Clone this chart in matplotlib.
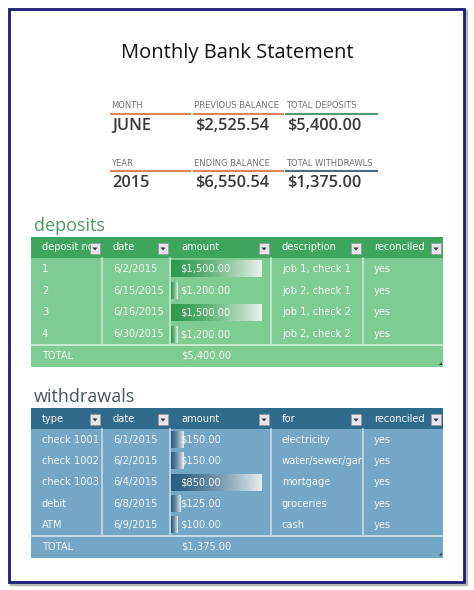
import numpy as np
import matplotlib.pyplot as plt
from matplotlib.patches import Rectangle, Polygon
from matplotlib.colors import to_rgb
from matplotlib.transforms import Bbox

# summary values
month = "JUNE"
year = "2015"
previous_balance = 2525.54
ending_balance = 6550.54

# deposits table
dep_headers = ["deposit no", "date", "amount", "description", "reconciled"]
dep_no = ["1", "2", "3", "4"]
dep_dates = ["6/2/2015", "6/15/2015", "6/16/2015", "6/30/2015"]
dep_amounts = [1500.00, 1200.00, 1500.00, 1200.00]
dep_desc = ["job 1, check 1", "job 2, check 1", "job 1, check 2", "job 2, check 2"]
dep_reconciled = ["yes", "yes", "yes", "yes"]

# withdrawals table
wd_headers = ["type", "date", "amount", "for", "reconciled"]
wd_type = ["check 1001", "check 1002", "check 1003", "debit", "ATM"]
wd_dates = ["6/1/2015", "6/2/2015", "6/4/2015", "6/8/2015", "6/9/2015"]
wd_amounts = [150.00, 150.00, 850.00, 125.00, 100.00]
wd_for = ["electricity", "water/sewer/garbage", "mortgage", "groceries", "cash"]
wd_reconciled = ["yes", "yes", "yes", "yes", "yes"]

total_deposits = sum(dep_amounts)
total_withdrawals = sum(wd_amounts)

COL_EDGES = [31, 102, 170, 271, 363, 443]
TXT = "#f4f8f4"
FS = 7.1


def money(v):
    return f"${v:,.2f}"


def dropdown(ax, x_right, yc):
    ax.add_patch(Rectangle((x_right - 11, yc - 5.5), 10, 11, facecolor="#e6e6ea",
                           edgecolor="#9a9aa0", lw=0.6, zorder=6))
    ax.add_patch(Polygon([(x_right - 8.5, yc - 1), (x_right - 3.5, yc - 1), (x_right - 6, yc + 2)],
                         closed=True, facecolor="#333344", edgecolor="none", zorder=7))


def gradient_bar(ax, x0, w, yc, dark, light):
    n = 64
    t = np.linspace(0, 1, n) ** 1.4
    c0, c1 = np.array(to_rgb(dark)), np.array(to_rgb(light))
    img = (c0[None, :] * (1 - t[:, None]) + c1[None, :] * t[:, None])[None, :, :]
    ax.imshow(img, extent=(x0, x0 + w, yc + 8.5, yc - 8.5), aspect="auto",
              interpolation="bilinear", zorder=3)


def clipped_text(ax, x, y, s, xa, xb, ya, yb, **kw):
    t = ax.text(x, y, s, **kw)
    p = ax.transData.transform([[xa, ya], [xb, yb]])
    box = Bbox.from_extents(p[:, 0].min(), p[:, 1].min(), p[:, 0].max(), p[:, 1].max())
    t.set_clip_path(None)
    t.set_clip_box(box)
    t.set_clip_on(True)
    return t


def draw_table(ax, top, row_h, headers, columns, amounts, total, pal):
    head_h, total_h = 21, 22
    n = len(amounts)
    x0, x1 = COL_EDGES[0], COL_EDGES[-1]
    body_top = top + head_h
    body_bot = body_top + n * row_h
    ax.add_patch(Rectangle((x0, top), x1 - x0, head_h, facecolor=pal["head"], lw=0, zorder=1))
    ax.add_patch(Rectangle((x0, body_top), x1 - x0, n * row_h + total_h,
                           facecolor=pal["body"], lw=0, zorder=1))
    # column separators and total line
    for xe in COL_EDGES[1:-1]:
        ax.plot([xe, xe], [body_top, body_bot], color=pal["sep"], lw=1.2, zorder=2)
    ax.plot([x0, x1], [body_bot, body_bot], color=pal["sep"], lw=1.4, zorder=2)

    hy = top + head_h / 2
    for i, h in enumerate(headers):
        ax.text(COL_EDGES[i] + 11, hy, h, color="white", fontsize=FS, va="center", zorder=4)
        dropdown(ax, COL_EDGES[i + 1] - 1, hy + 1)

    vmin, vmax = min(amounts), max(amounts)
    for r in range(n):
        yc = body_top + (r + 0.5) * row_h
        w = 7 + (amounts[r] - vmin) / (vmax - vmin) * 84
        gradient_bar(ax, COL_EDGES[2] + 1, w, yc, pal["bar"], pal["barlight"])
        for c, col in enumerate(columns):
            if c == 2:
                ax.text(180, yc, money(amounts[r]), color=TXT, fontsize=FS, va="center", zorder=5)
                continue
            clipped_text(ax, COL_EDGES[c] + 11, yc, col[r], COL_EDGES[c], COL_EDGES[c + 1] - 1,
                         body_top, body_bot, color=TXT, fontsize=FS, va="center", zorder=5)

    ty = body_bot + total_h / 2
    ax.text(COL_EDGES[0] + 11, ty, "TOTAL", color=TXT, fontsize=FS, va="center", zorder=5)
    ax.text(181, ty, money(total), color=TXT, fontsize=FS, va="center", zorder=5)
    ax.add_patch(Polygon([(x1 - 1, ty + 9), (x1 - 1, ty + 6), (x1 - 4, ty + 9)],
                         closed=True, facecolor="#333333", edgecolor="none", zorder=5))


fig = plt.figure(figsize=(4.74, 5.90), dpi=100)
ax = fig.add_axes([0, 0, 1, 1])
ax.set_xlim(0, 474)
ax.set_ylim(590, 0)
ax.axis("off")

# page frame with shadow
ax.add_patch(Rectangle((11, 11), 455, 573, facecolor="none", edgecolor="#b8b8a8", lw=2.5, zorder=0))
ax.add_patch(Rectangle((9, 9), 455, 573, facecolor="white", edgecolor="#1c1c78", lw=2, zorder=0.5))

ax.text(237, 53, "Monthly Bank Statement", fontsize=14.5, family="Open Sans",
        color="#111111", ha="center", va="center")

# summary block
orange, green, slate = "#d9845c", "#4f9c70", "#4a6a84"
summary = [
    (111, 190, "MONTH", month, orange, 0),
    (194, 283, "PREVIOUS BALANCE", money(previous_balance), orange, 0),
    (286, 377, "TOTAL DEPOSITS", money(total_deposits), green, 0),
    (111, 190, "YEAR", year, orange, 1),
    (194, 283, "ENDING BALANCE", money(ending_balance), orange, 1),
    (286, 377, "TOTAL WITHDRAWLS", money(total_withdrawals), slate, 1),
]
for xa, xb, label, val, lc, row in summary:
    y0 = 106 + row * 57
    ax.text(xa, y0, label, fontsize=6, color="#707070", va="center")
    ax.plot([xa, xb], [y0 + 8, y0 + 8], color=lc, lw=1.5)
    ax.text(xa + 1, y0 + 20, val, fontsize=11.8, family="Open Sans", weight="semibold",
            color="#3a3a3a", va="center")

ax.text(34, 226, "deposits", fontsize=13, family="Open Sans", color="#4c9a60", va="center")
draw_table(ax, 237, 21.75, dep_headers,
           [dep_no, dep_dates, None, dep_desc, dep_reconciled], dep_amounts, total_deposits,
           {"head": "#3ea65c", "body": "#7ecc92", "sep": "#c6ead0",
            "bar": "#2f9a4e", "barlight": "#e8f2ea"})

ax.text(34, 397, "withdrawals", fontsize=13, family="Open Sans", color="#46545f", va="center")
draw_table(ax, 408, 21.3, wd_headers,
           [wd_type, wd_dates, None, wd_for, wd_reconciled], wd_amounts, total_withdrawals,
           {"head": "#316b8c", "body": "#74a6c5", "sep": "#c2dbea",
            "bar": "#2c5f80", "barlight": "#e6edf2"})

fig.savefig("out.png", dpi=100)
